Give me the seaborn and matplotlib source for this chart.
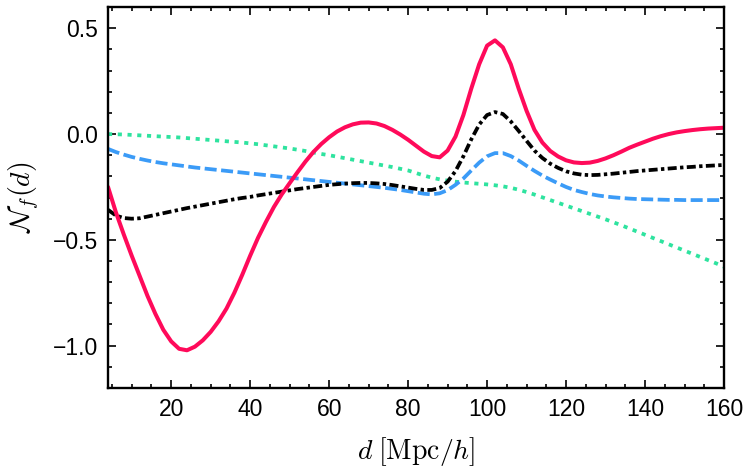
import pandas as pd
import matplotlib
matplotlib.use("Agg")
import matplotlib.pyplot as plt
from matplotlib.ticker import MultipleLocator
import seaborn as sns

# distance grid (Mpc/h), every 2 units; curve values
d = list(range(4, 161, 2))

n_red = [-0.25, -0.37, -0.475, -0.575, -0.67, -0.765, -0.85, -0.925, -0.98, -1.015,
         -1.022, -1.005, -0.975, -0.935, -0.885, -0.825, -0.75, -0.665, -0.575, -0.49,
         -0.415, -0.345, -0.285, -0.232, -0.18, -0.13, -0.085, -0.047, -0.015, 0.012,
         0.032, 0.046, 0.054, 0.055, 0.05, 0.038, 0.02, -0.002, -0.027, -0.055,
         -0.083, -0.104, -0.11, -0.078, -0.012, 0.09, 0.215, 0.33, 0.418, 0.443,
         0.41, 0.33, 0.215, 0.11, 0.02, -0.04, -0.08, -0.106, -0.124, -0.134,
         -0.137, -0.135, -0.127, -0.115, -0.1, -0.083, -0.065, -0.05, -0.036, -0.022,
         -0.01, 0.0, 0.008, 0.014, 0.019, 0.023, 0.026, 0.028, 0.03]

n_black = [-0.358, -0.385, -0.397, -0.4, -0.398, -0.39, -0.382, -0.374, -0.366, -0.358,
           -0.35, -0.343, -0.336, -0.329, -0.322, -0.315, -0.308, -0.302, -0.297, -0.29,
           -0.284, -0.278, -0.272, -0.266, -0.26, -0.255, -0.25, -0.245, -0.24, -0.237,
           -0.234, -0.232, -0.231, -0.231, -0.233, -0.236, -0.241, -0.247, -0.253, -0.259,
           -0.264, -0.264, -0.255, -0.225, -0.175, -0.105, -0.025, 0.045, 0.09, 0.104,
           0.095, 0.06, 0.015, -0.032, -0.078, -0.113, -0.14, -0.16, -0.176, -0.186,
           -0.192, -0.194, -0.193, -0.19, -0.187, -0.183, -0.179, -0.175, -0.172, -0.169,
           -0.166, -0.163, -0.16, -0.157, -0.155, -0.152, -0.15, -0.148, -0.146]

n_blue = [-0.07, -0.085, -0.097, -0.108, -0.117, -0.125, -0.132, -0.138, -0.143, -0.148,
          -0.153, -0.158, -0.162, -0.166, -0.17, -0.174, -0.178, -0.182, -0.186, -0.19,
          -0.194, -0.198, -0.202, -0.206, -0.21, -0.214, -0.218, -0.222, -0.226, -0.23,
          -0.234, -0.238, -0.242, -0.246, -0.25, -0.254, -0.259, -0.264, -0.27, -0.276,
          -0.282, -0.285, -0.28, -0.265, -0.24, -0.21, -0.172, -0.135, -0.105, -0.09,
          -0.09, -0.104, -0.125, -0.15, -0.174, -0.196, -0.215, -0.233, -0.25, -0.264,
          -0.274, -0.283, -0.29, -0.295, -0.299, -0.302, -0.305, -0.307, -0.308, -0.309,
          -0.31, -0.311, -0.311, -0.312, -0.312, -0.312, -0.312, -0.312, -0.312]

n_green = [0.0, -0.001, -0.002, -0.004, -0.006, -0.008, -0.01, -0.012, -0.014, -0.016,
           -0.019, -0.022, -0.025, -0.028, -0.031, -0.034, -0.037, -0.04, -0.044, -0.048,
           -0.053, -0.058, -0.063, -0.068, -0.074, -0.08, -0.087, -0.094, -0.1, -0.107,
           -0.114, -0.121, -0.128, -0.135, -0.142, -0.149, -0.156, -0.164, -0.172, -0.184,
           -0.196, -0.206, -0.214, -0.22, -0.225, -0.229, -0.232, -0.235, -0.238, -0.242,
           -0.247, -0.254, -0.263, -0.274, -0.286, -0.299, -0.312, -0.325, -0.338, -0.351,
           -0.364, -0.377, -0.39, -0.403, -0.417, -0.431, -0.446, -0.461, -0.476, -0.491,
           -0.506, -0.521, -0.536, -0.551, -0.566, -0.581, -0.596, -0.611, -0.627]

df = pd.DataFrame({"d": d, "red": n_red, "black": n_black, "blue": n_blue, "green": n_green})

sns.set_style("ticks")
plt.rcParams["font.family"] = ["Liberation Sans", "DejaVu Sans"]
plt.rcParams["mathtext.fontset"] = "cm"

fig = plt.figure(figsize=(7.47, 4.76), dpi=100)
ax = fig.add_axes([0.1446, 0.185, 0.8246, 0.8])

lw = 2.7
# draw order: green, blue, black, red on top
sns.lineplot(data=df, x="d", y="green", ax=ax, color="#2ee39f", linewidth=lw)
sns.lineplot(data=df, x="d", y="blue", ax=ax, color="#3b9bf7", linewidth=lw)
sns.lineplot(data=df, x="d", y="black", ax=ax, color="black", linewidth=lw)
sns.lineplot(data=df, x="d", y="red", ax=ax, color="#ff0a5a", linewidth=lw + 0.2)

styles = [(0, (1.1, 1.5)), (0, (3.2, 1.2)), (0, (2.4, 0.9, 0.9, 0.9)), "-"]
for line, ls in zip(ax.lines, styles):
    line.set_linestyle(ls)
    line.set_dash_capstyle("butt")
    line.set_solid_capstyle("round")
    line.set_solid_joinstyle("round")

ax.set_xlim(4, 160)
ax.set_ylim(-1.2, 0.6)
ax.xaxis.set_major_locator(MultipleLocator(20))
ax.xaxis.set_minor_locator(MultipleLocator(5))
ax.yaxis.set_minor_locator(MultipleLocator(0.1))
ax.set_yticks([-1.0, -0.5, 0.0, 0.5])
ax.set_yticklabels(["\u22121.0", "\u22120.5", "0.0", "0.5"])

ax.tick_params(which="both", direction="in", labelsize=16.5, width=1.2, color="black",
               labelcolor="black", top=True, right=True)
ax.tick_params(which="major", length=6, pad=7)
ax.tick_params(which="minor", length=3)
for spine in ax.spines.values():
    spine.set_linewidth(1.7)
    spine.set_color("black")

# lighter ticks on top and right, like the reference
for t in ax.xaxis.get_major_ticks() + ax.xaxis.get_minor_ticks():
    t.tick2line.set_color("#bbbbbb")
for t in ax.yaxis.get_major_ticks() + ax.yaxis.get_minor_ticks():
    t.tick2line.set_color("#bbbbbb")

ax.set_xlabel(r"$d\;[\mathrm{Mpc}/h]$", fontsize=20, labelpad=10, color="black")
ax.set_ylabel(r"$\mathcal{N}_f(d)$", fontsize=20, labelpad=8, color="black")

fig.savefig("out.png", dpi=100)
